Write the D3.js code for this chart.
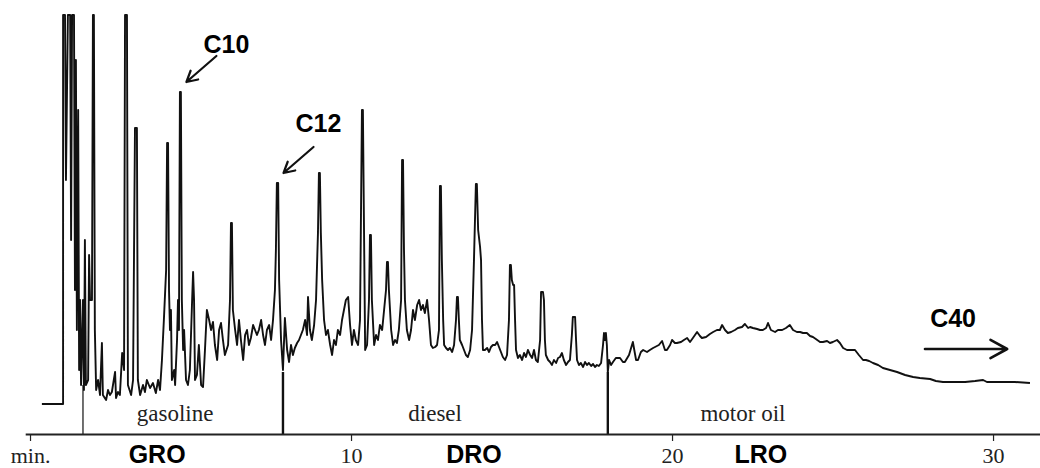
<!DOCTYPE html>
<html lang="en">
<head>
	<meta charset="utf-8">
	<title>Chromatogram</title>
	<style>
		body { margin: 0; background: #fff; }
		.trace { fill: none; stroke: #111; stroke-width: 1.9px; stroke-linejoin: round; }
		.cut { stroke: #111; }
		.axis path { stroke: #222; stroke-width: 2px; }
		.axis line { stroke: #222; stroke-width: 1.2px; }
		.axis text { font-family: "Liberation Serif", "Times New Roman", serif; font-size: 22px; fill: #222; }
		.fraction { font-family: "Liberation Serif", "Times New Roman", serif; font-size: 23px; fill: #222; }
		.range, .peak-label { font-family: "Liberation Sans", Arial, sans-serif; font-weight: bold; font-size: 25px; fill: #000; }
		.arrow { fill: none; stroke: #111; stroke-width: 2.2px; stroke-linecap: round; stroke-linejoin: round; }
	</style>
</head>
<body>

	<div id="chart"></div>

	<script src="https://cdn.jsdelivr.net/npm/d3@7"></script>
	<script>
		// trace: [retention time (min), detector response]
		var gasolineTrace = [
			[0.37,0],[1.03,0],[1.03,389],[1.09,389],[1.12,224],[1.18,389],[1.25,389],[1.28,164],[1.31,389],[1.37,389],
			[1.40,114],[1.43,344],[1.46,74],[1.50,294],[1.53,34],[1.56,104],[1.59,19],[1.65,104],[1.68,14],[1.71,164],
			[1.74,19],[1.81,24],[1.84,149],[1.87,104],[1.93,104],[1.96,389],[1.99,389],[2.02,74],[2.06,14],[2.12,24],
			[2.18,9],[2.24,61],[2.27,9],[2.37,4],[2.43,14],[2.49,9],[2.55,12],[2.65,32],[2.68,6],[2.74,12],
			[2.80,9],[2.87,51],[2.93,34],[2.96,389],[3.02,389],[3.05,19],[3.15,9],[3.21,24],[3.27,276],[3.33,276],
			[3.36,24],[3.43,9],[3.52,19],[3.58,12],[3.64,24],[3.74,16],[3.83,21],[3.92,11],[3.99,24],[4.05,14],
			[4.11,44],[4.17,84],[4.24,134],[4.27,261],[4.30,261],[4.33,114],[4.36,74],[4.39,94],[4.42,24],[4.49,34],
			[4.52,19],[4.58,64],[4.61,104],[4.64,74],[4.67,312],[4.70,312],[4.73,104],[4.77,54],[4.80,74],[4.86,24],
			[4.92,19],[4.98,34],[5.05,104],[5.08,132],[5.11,104],[5.14,24],[5.20,29],[5.26,59],[5.33,19],[5.39,17],
			[5.45,54],[5.51,94],[5.58,84],[5.64,74],[5.70,82],[5.76,59],[5.83,44],[5.89,74],[5.95,81],[6.01,64],
			[6.07,49],[6.17,59],[6.23,104],[6.26,181],[6.29,181],[6.32,94],[6.39,74],[6.45,59],[6.51,84],[6.57,64],
			[6.64,44],[6.70,69],[6.76,74],[6.82,59],[6.88,66],[6.95,79],[7.01,74],[7.07,69],[7.13,74],[7.20,84],
			[7.26,69],[7.32,59],[7.38,74],[7.45,79],[7.51,64],[7.57,84],[7.63,114],[7.66,154],[7.69,221],[7.73,221],
			[7.76,124],[7.82,64],[7.88,34]
		];
		var dieselTrace = [
			[7.94,86],[8.01,54],[8.07,42],[8.13,59],[8.19,49],[8.25,56],[8.32,61],[8.38,64],[8.44,69],[8.50,74],
			[8.57,84],[8.63,69],[8.66,107],[8.72,74],[8.78,64],[8.85,79],[8.91,104],[8.97,171],[9.00,231],[9.03,231],
			[9.06,171],[9.10,124],[9.16,84],[9.22,69],[9.28,74],[9.35,59],[9.41,49],[9.47,64],[9.53,59],[9.59,74],
			[9.66,69],[9.72,84],[9.78,94],[9.84,104],[9.91,107],[9.97,79],[10.03,59],[10.09,74],[10.15,64],[10.22,59],
			[10.28,84],[10.34,294],[10.37,294],[10.44,54],[10.50,59],[10.56,104],[10.59,169],[10.62,169],[10.65,104],[10.72,59],
			[10.78,69],[10.84,64],[10.90,79],[10.97,74],[11.03,94],[11.09,114],[11.12,142],[11.15,142],[11.18,114],[11.25,74],
			[11.31,59],[11.37,64],[11.43,61],[11.49,74],[11.56,104],[11.59,244],[11.62,244],[11.65,154],[11.68,104],[11.74,74],
			[11.81,64],[11.87,74],[11.93,94],[11.99,84],[12.06,99],[12.12,104],[12.18,94],[12.24,99],[12.30,91],[12.37,104],
			[12.43,84],[12.49,59],[12.55,56],[12.62,57],[12.68,59],[12.74,74],[12.77,218],[12.80,218],[12.83,144],[12.87,84],
			[12.90,59],[12.96,56],[13.02,54],[13.08,56],[13.15,52],[13.21,59],[13.27,84],[13.30,107],[13.33,107],[13.36,84],
			[13.39,64],[13.46,59],[13.52,54],[13.58,49],[13.64,47],[13.71,54],[13.77,74],[13.83,144],[13.89,220],[13.92,220],
			[13.96,174],[14.02,157],[14.05,144],[14.08,84],[14.11,54],[14.17,54],[14.24,56],[14.30,52],[14.36,57],[14.42,59],
			[14.49,59],[14.55,62],[14.61,57],[14.67,52],[14.73,47],[14.80,44],[14.86,49],[14.92,84],[14.95,139],[14.98,139],
			[15.01,124],[15.05,119],[15.08,119],[15.11,84],[15.14,54],[15.20,46],[15.26,49],[15.33,44],[15.39,51],[15.45,47],
			[15.51,54],[15.58,49],[15.64,46],[15.70,54],[15.76,44],[15.82,42],[15.89,64],[15.92,112],[15.98,112],[16.01,104],
			[16.04,64],[16.07,49],[16.14,44],[16.20,42],[16.26,39],[16.32,44],[16.39,41],[16.45,46],[16.51,47],[16.57,51],
			[16.63,44],[16.70,39],[16.76,42],[16.82,44],[16.88,69],[16.91,87],[16.98,87],[17.01,64],[17.04,44],[17.10,39],
			[17.16,41],[17.23,37],[17.29,42],[17.35,39],[17.41,41],[17.48,38],[17.54,40],[17.60,37],[17.66,39],[17.72,38],
			[17.79,41],[17.85,59],[17.88,71],[17.91,64],[17.94,71],[17.97,59],[18.00,32]
		];
		var motorOilTrace = [
			[18.04,44],[18.10,39],[18.16,42],[18.25,46],[18.38,46],[18.47,42],[18.53,42],[18.66,49],[18.78,62],[18.88,44],
			[18.94,44],[19.03,52],[19.10,54],[19.22,52],[19.31,54],[19.41,56],[19.47,57],[19.59,59],[19.69,63],[19.78,54],
			[19.84,54],[19.94,59],[20.00,64],[20.09,61],[20.15,61],[20.28,62],[20.37,64],[20.47,66],[20.56,62],[20.65,66],
			[20.78,72],[20.87,68],[20.93,66],[21.06,67],[21.18,70],[21.28,72],[21.40,74],[21.49,74],[21.56,79],[21.65,74],
			[21.74,71],[21.84,72],[21.96,74],[22.05,76],[22.18,77],[22.27,80],[22.37,76],[22.43,77],[22.52,76],[22.65,75],
			[22.74,74],[22.83,74],[22.93,76],[22.99,81],[23.08,74],[23.21,72],[23.30,74],[23.43,74],[23.55,76],[23.67,79],
			[23.77,74],[23.89,72],[23.99,72],[24.08,71],[24.20,71],[24.30,68],[24.39,67],[24.48,65],[24.61,62],[24.70,62],
			[24.83,63],[24.92,61],[25.01,62],[25.14,64],[25.23,61],[25.33,56],[25.45,54],[25.57,54],[25.70,54],[25.82,49],
			[25.95,44],[26.04,44],[26.14,43],[26.26,41],[26.42,39],[26.57,36],[26.79,34],[27.01,32],[27.26,29],[27.51,27],
			[27.72,26],[28.04,25],[28.22,23],[28.44,22],[28.81,22],[29.13,22],[29.44,23],[29.69,24],[29.81,22],[30.22,22],
			[30.68,22],[31.15,21]
		];

		var tickValues = [0, 10, 20, 30];
		var tickLabels = ["min.", "10", "20", "30"];

		// fraction cut points and where the marker starts
		var cutTimes = [1.65, 7.88, 18.00];
		var cutTops = [19, 32, 32];

		var fractionNames = ["gasoline", "diesel", "motor oil"];
		var fractionMids = [4.52, 12.62, 22.21];
		var rangeNames = ["GRO", "DRO", "LRO"];
		var rangeMids = [3.96, 13.83, 22.77];

		var peakLabels = ["C10", "C12"];
		var peakTimes = [4.685, 7.71];
		var peakHeights = [312, 221];

		var c40Label = "C40";
		var c40From = 27.88, c40To = 30.44, c40Level = 55, c40LabelLevel = 77;

		var width = 1040,
		    height = 468,
		    axisY = 434;

		var svg = d3.select("#chart")
			.append("svg")
			.attr("width", width)
			.attr("height", height);

		var x = d3.scaleLinear().domain([-0.15, 31.6]).range([25.2, 1044.4]);
		var y = d3.scaleLinear().domain([0, 390]).range([404, 14]);

		var line = d3.line()
			.x(function(d) { return x(d[0]); })
			.y(function(d) { return y(d[1]); });

		svg.append("path")
			.datum(gasolineTrace.concat(dieselTrace, motorOilTrace))
			.attr("class", "trace")
			.attr("d", line);

		svg.selectAll(".cut")
			.data(cutTimes)
		.enter().append("line")
			.attr("class", "cut")
			.attr("x1", function(d) { return x(d); })
			.attr("x2", function(d) { return x(d); })
			.attr("y1", function(d, i) { return y(cutTops[i]); })
			.attr("y2", axisY)
			.attr("stroke-width", function(d, i) { return i === 0 ? 1.2 : 2.4; });

		var xAxis = d3.axisBottom(x)
			.tickValues(tickValues)
			.tickFormat(function(d, i) { return tickLabels[i]; })
			.tickSize(7)
			.tickSizeOuter(0)
			.tickPadding(6);

		svg.append("g")
			.attr("class", "axis")
			.attr("transform", "translate(0," + axisY + ")")
			.call(xAxis);

		svg.selectAll(".fraction")
			.data(fractionNames)
		.enter().append("text")
			.attr("class", "fraction")
			.attr("text-anchor", "middle")
			.attr("x", function(d, i) { return x(fractionMids[i]); })
			.attr("y", 421)
			.text(function(d) { return d; });

		svg.selectAll(".range")
			.data(rangeNames)
		.enter().append("text")
			.attr("class", "range")
			.attr("text-anchor", "middle")
			.attr("x", function(d, i) { return x(rangeMids[i]); })
			.attr("y", 463)
			.text(function(d) { return d; });

		// open arrow: shaft plus a V head at the tip
		function arrowPath(x1, y1, x2, y2, head) {
			var a = Math.atan2(y2 - y1, x2 - x1),
			    spread = 0.5;
			var hx1 = x2 - head * Math.cos(a - spread), hy1 = y2 - head * Math.sin(a - spread);
			var hx2 = x2 - head * Math.cos(a + spread), hy2 = y2 - head * Math.sin(a + spread);
			return "M" + x1 + "," + y1 + "L" + x2 + "," + y2 +
				"M" + hx1 + "," + hy1 + "L" + x2 + "," + y2 + "L" + hx2 + "," + hy2;
		}

		var labelShift = [46, 41],
		    labelLift = [39, 51];

		peakLabels.forEach(function(label, i) {
			var px = x(peakTimes[i]),
			    py = y(peakHeights[i]);
			svg.append("path")
				.attr("class", "arrow")
				.attr("d", arrowPath(px + 36, py - 36, px + 6, py - 10, 12));
			svg.append("text")
				.attr("class", "peak-label")
				.attr("text-anchor", "middle")
				.attr("x", px + labelShift[i])
				.attr("y", py - labelLift[i])
				.text(label);
		});

		svg.append("path")
			.attr("class", "arrow")
			.style("stroke-width", "2.6px")
			.attr("d", arrowPath(x(c40From), y(c40Level), x(c40To), y(c40Level), 19));

		svg.append("text")
			.attr("class", "peak-label")
			.attr("text-anchor", "middle")
			.attr("x", x((c40From + c40To) / 2) - 13)
			.attr("y", y(c40LabelLevel))
			.text(c40Label);
	</script>

</body>
</html>
